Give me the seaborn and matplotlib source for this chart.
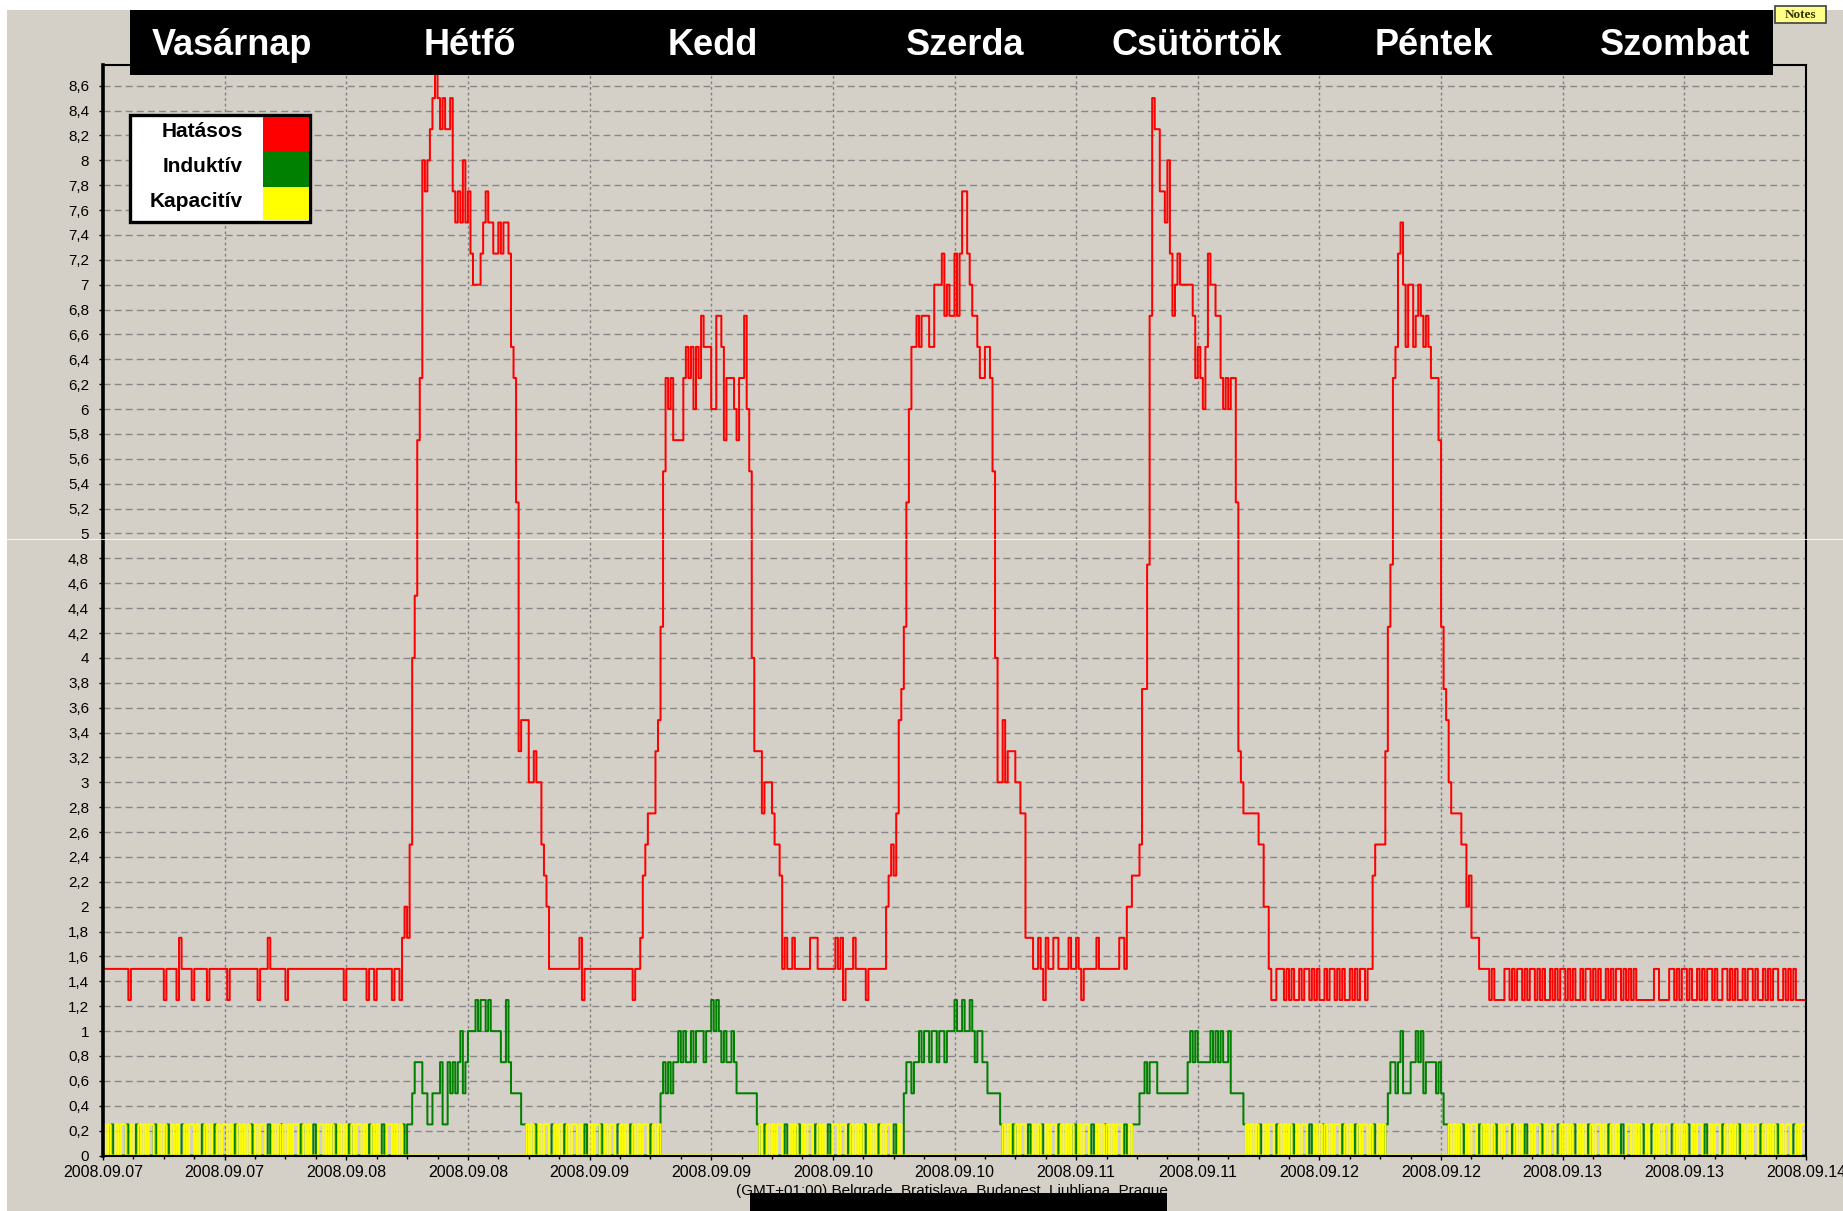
import numpy as np
import pandas as pd
import seaborn as sns
import matplotlib.pyplot as plt
import matplotlib.dates as mdates
import matplotlib.transforms as mtransforms
from matplotlib.patches import Rectangle
from matplotlib.lines import Line2D
from matplotlib.ticker import MultipleLocator, FuncFormatter

sns.set_theme(style="white")
plt.rcParams['font.family'] = ['Liberation Sans', 'DejaVu Sans']

# 15 minute demand data, one week from Sunday 2008.09.07 00:00
START = "2008-09-07 00:00"
days = ["Vasárnap", "Hétfő", "Kedd", "Szerda", "Csütörtök", "Péntek", "Szombat"]
day_label_hours = [12.7, 36.2, 60.2, 85.1, 107.9, 131.3, 155.1]
series_names = ["Hatásos", "Induktív", "Kapacitív"]
series_colors = ["#ff0000", "#008000", "#ffff00"]

# active power (Hatásos), runs of (value, number of quarter hours)
red_sunday = [(1.5, 10), (1.25, 1), (1.5, 13), (1.25, 1), (1.5, 4), (1.25, 1), (1.75, 1), (1.5, 4),
              (1.25, 1), (1.5, 5), (1.25, 1), (1.5, 7), (1.25, 1), (1.5, 11), (1.25, 1), (1.5, 3),
              (1.75, 1), (1.5, 6), (1.25, 1), (1.5, 22), (1.25, 1), (1.5, 8), (1.25, 1), (1.5, 2),
              (1.25, 1), (1.5, 6), (1.25, 1), (1.5, 2), (1.25, 1)]
red_monday = [(1.75, 1), (2.0, 1), (1.75, 1), (2.5, 1), (4.0, 1), (4.5, 1), (5.75, 1), (6.25, 1),
              (8.0, 1), (7.75, 1), (8.0, 1), (8.25, 1), (8.5, 1), (8.75, 1), (8.5, 1), (8.25, 1),
              (8.5, 1), (8.25, 2), (8.5, 1), (7.75, 1), (7.5, 1), (7.75, 1), (7.5, 1), (8.0, 1),
              (7.5, 1), (7.75, 1), (7.25, 1), (7.0, 3), (7.25, 1), (7.5, 1), (7.75, 1), (7.5, 2),
              (7.25, 2), (7.5, 1), (7.25, 1), (7.5, 2), (7.25, 1), (6.5, 1), (6.25, 1), (5.25, 1),
              (3.25, 1), (3.5, 3), (3.0, 2), (3.25, 1), (3.0, 2), (2.5, 1), (2.25, 1), (2.0, 1),
              (1.5, 12), (1.75, 1), (1.25, 1), (1.5, 19), (1.25, 1), (1.5, 2)]
red_tuesday = [(1.75, 1), (2.25, 1), (2.5, 1), (2.75, 3), (3.25, 1), (3.5, 1), (4.25, 1), (5.5, 1),
               (6.25, 1), (6.0, 1), (6.25, 1), (5.75, 4), (6.25, 1), (6.5, 1), (6.25, 1), (6.5, 1),
               (6.0, 1), (6.5, 1), (6.25, 1), (6.75, 1), (6.5, 3), (6.0, 2), (6.75, 2), (6.5, 1),
               (5.75, 1), (6.25, 3), (6.0, 1), (5.75, 1), (6.25, 2), (6.75, 1), (6.0, 1), (5.5, 1),
               (4.0, 1), (3.25, 3), (2.75, 1), (3.0, 3), (2.75, 1), (2.5, 2), (2.25, 1), (1.5, 1),
               (1.75, 1), (1.5, 2), (1.75, 1), (1.5, 6), (1.75, 3), (1.5, 7), (1.75, 1), (1.5, 1),
               (1.75, 1), (1.25, 1), (1.5, 3), (1.75, 1), (1.5, 4), (1.25, 1), (1.5, 4)]
red_wednesday = [(1.5, 3), (2.0, 1), (2.25, 1), (2.5, 1), (2.25, 1), (2.75, 1), (3.5, 1), (3.75, 1),
                 (4.25, 1), (5.25, 1), (6.0, 1), (6.5, 2), (6.75, 1), (6.5, 1), (6.75, 3), (6.5, 2),
                 (7.0, 3), (7.25, 1), (6.75, 1), (7.0, 1), (6.75, 2), (7.25, 1), (6.75, 1), (7.25, 1),
                 (7.75, 2), (7.25, 1), (7.0, 1), (6.75, 2), (6.5, 1), (6.25, 2), (6.5, 2), (6.25, 1),
                 (5.5, 1), (4.0, 1), (3.0, 2), (3.5, 1), (3.0, 1), (3.25, 3), (3.0, 2), (2.75, 2),
                 (1.75, 3), (1.5, 2), (1.75, 1), (1.5, 1), (1.25, 1), (1.75, 1), (1.5, 2), (1.75, 2),
                 (1.5, 4), (1.75, 1), (1.5, 2), (1.75, 1), (1.5, 1), (1.25, 1), (1.5, 5), (1.75, 1),
                 (1.5, 8)]
red_thursday = [(1.75, 2), (1.5, 1), (2.0, 2), (2.25, 3), (2.5, 1), (3.75, 2), (4.75, 1), (6.75, 1),
                (8.5, 1), (8.25, 2), (7.75, 2), (7.5, 1), (8.0, 1), (7.25, 1), (6.75, 1), (7.0, 1),
                (7.25, 1), (7.0, 5), (6.75, 1), (6.25, 1), (6.5, 1), (6.25, 1), (6.0, 1), (6.5, 1),
                (7.25, 1), (7.0, 2), (6.75, 2), (6.25, 1), (6.0, 1), (6.25, 1), (6.0, 1), (6.25, 2),
                (5.25, 1), (3.25, 1), (3.0, 1), (2.75, 6), (2.5, 2), (2.0, 2), (1.5, 1), (1.25, 2),
                (1.5, 3),
                (1.25, 1), (1.5, 1), (1.25, 1), (1.5, 1), (1.25, 2), (1.5, 1), (1.25, 1), (1.5, 2),
                (1.25, 1), (1.5, 1), (1.25, 1), (1.5, 1), (1.25, 2), (1.5, 1), (1.25, 1), (1.5, 2),
                (1.25, 1), (1.5, 1), (1.25, 1), (1.5, 1), (1.25, 2), (1.5, 1), (1.25, 1), (1.5, 1),
                (1.25, 1), (1.5, 2), (1.25, 1), (1.5, 1)]
red_friday = [(1.5, 1), (2.25, 1), (2.5, 4), (3.25, 1), (4.25, 1), (4.75, 1), (6.25, 1), (6.5, 1),
              (7.25, 1), (7.5, 1), (7.0, 1), (6.5, 1), (7.0, 2), (6.5, 1), (6.75, 1), (7.0, 1),
              (6.75, 1), (6.5, 1), (6.75, 1), (6.5, 1), (6.25, 3), (5.75, 1), (4.25, 1), (3.75, 1),
              (3.5, 1), (3.0, 1), (2.75, 4), (2.5, 2), (2.0, 1), (2.25, 1), (1.75, 3), (1.5, 4)]
red_weekend = [(1.25, 1), (1.5, 1), (1.25, 4), (1.5, 2), (1.25, 1), (1.5, 1), (1.25, 1), (1.5, 2),
               (1.25, 1), (1.5, 1), (1.25, 1), (1.5, 2), (1.25, 1), (1.5, 1), (1.25, 1), (1.5, 1),
               (1.25, 2), (1.5, 1), (1.25, 1), (1.5, 1), (1.25, 1), (1.5, 2), (1.25, 1), (1.5, 1),
               (1.25, 1), (1.5, 1), (1.25, 2), (1.5, 1), (1.25, 1), (1.5, 2), (1.25, 1), (1.5, 1),
               (1.25, 1), (1.5, 1), (1.25, 2), (1.5, 1), (1.25, 1), (1.5, 1), (1.25, 1), (1.5, 2),
               (1.25, 1), (1.5, 1), (1.25, 1), (1.5, 1), (1.25, 1), (1.5, 1), (1.25, 7), (1.5, 2),
               (1.25, 4), (1.5, 2), (1.25, 1), (1.5, 1), (1.25, 1), (1.5, 2), (1.25, 1), (1.5, 1),
               (1.25, 2), (1.5, 1), (1.25, 1), (1.5, 1), (1.25, 1), (1.5, 2), (1.25, 1), (1.5, 1),
               (1.25, 2), (1.5, 2), (1.25, 1), (1.5, 1), (1.25, 1), (1.5, 1), (1.25, 2), (1.5, 1),
               (1.25, 1), (1.5, 2), (1.25, 1), (1.5, 1), (1.25, 2), (1.5, 1), (1.25, 1), (1.5, 1),
               (1.25, 1), (1.5, 2), (1.25, 2), (1.5, 1), (1.25, 1), (1.5, 1), (1.25, 1), (1.5, 1),
               (1.25, 4)]

# reactive power in working hours (Induktív), runs of (value, quarters)
green_monday = [(0.5, 1), (0.75, 3), (0.5, 2), (0.25, 2), (0.5, 3), (0.75, 1), (0.25, 2), (0.75, 1),
                (0.5, 1), (0.75, 1), (0.5, 1), (0.75, 1), (1.0, 1), (0.5, 1), (0.75, 1), (1.0, 3),
                (1.25, 1), (1.0, 1), (1.25, 2), (1.0, 1), (1.25, 1), (1.0, 4), (0.75, 2), (1.25, 1),
                (0.75, 1), (0.5, 4), (0.25, 2)]
green_tuesday = [(0.5, 1), (0.75, 1), (0.5, 1), (0.75, 1), (0.5, 1), (0.75, 2), (1.0, 1), (0.75, 1),
                 (1.0, 1), (0.75, 2), (1.0, 1), (0.75, 1), (1.0, 3), (0.75, 1), (1.0, 2), (1.25, 1),
                 (1.0, 1), (1.25, 1), (1.0, 1), (0.75, 1), (1.0, 1), (0.75, 2), (1.0, 1), (0.75, 1),
                 (0.5, 8), (0.25, 1)]
green_wednesday = [(0.5, 1), (0.75, 2), (0.5, 1), (0.75, 2), (1.0, 1), (0.75, 1), (1.0, 2), (0.75, 1),
                   (1.0, 2), (0.75, 1), (1.0, 2), (0.75, 1), (1.0, 3), (1.25, 1), (1.0, 2), (1.25, 1),
                   (1.0, 2), (1.25, 1), (1.0, 1), (0.75, 1), (1.0, 2), (0.75, 2), (0.5, 5), (0.25, 1)]
green_thursday = [(0.5, 2), (0.75, 1), (0.5, 1), (0.75, 3), (0.5, 12), (0.75, 1), (1.0, 1), (0.75, 1),
                  (1.0, 1), (0.75, 5), (1.0, 1), (0.75, 1), (1.0, 1), (0.75, 1), (1.0, 1), (0.75, 2),
                  (1.0, 1), (0.5, 5)]
green_friday = [(0.5, 1), (0.75, 2), (0.5, 1), (0.75, 1), (1.0, 1), (0.5, 3), (0.75, 2), (1.0, 1),
                (0.75, 1), (1.0, 1), (0.5, 1), (0.75, 4), (0.5, 1), (0.75, 1), (0.5, 1)]

# off hours, one letter per quarter: y = Kapacitív 0.25, g = Induktív 0.25, 0 = none
night_1 = ("y0yg0y0yyg" "0y0gy0y0yy" "g0y0yg0y0y" "0gy0yy0y0g" "y0y0gy0yy0" "y0gy0y0yg0"
           "y0yy0g0y0y" "gy0y0yy0gy" "0y0g0yy0y0" "yg0y0y0gy0" "yy0y0gy0y0" "g0yy0y0yg0" "gg")
night_2 = "y0yg0y0yy0" "gy0y0gy0yy" "0y0g0y0yyg" "0y0yy0gy0y" "0gy0y0yy0g" "y0y"
night_3 = "y0gy0y0yy0" "g0y0yg0y0y" "y0gy0y0g0y" "y0yy0gy0y0" "yg0y0y0gy0" "yy0g0y0"
night_4 = "y0y0gy0yy0" "g0y0yg0y0y" "y0gy0y0yg0" "y0yy0g0y0y" "gy0y0yy0g0" "yggg"
night_5 = "gy0y0yg0y0" "yy0gy0y0yg" "0y0yy0g0y0" "ygy0y0yy0g" "y0y0gy0yy0" "yg0y0yg"
night_6 = ("ggy0y0yg0y" "0yy0gy0y0y" "g0y0yy0gy0" "y0g0y0yyg0" "y0yy0gy0y0" "yg0y0y0gy0"
           "yy0y0gy0y0" "g0yy0y0yg0" "y0gy0y0yy0" "gy0y0yg0y0" "yy0g0y0yy0" "gy0y0yg0y0"
           "y0yy0gy0y0" "yg0y0yy0gy" "0yy")


def expand(runs):
    return [v for v, n in runs for _ in range(n)]


red = expand(red_sunday + red_monday + red_tuesday + red_wednesday + red_thursday
             + red_friday + red_weekend)

green, yellow = [], []
for seg in [night_1, green_monday, night_2, green_tuesday, night_3, green_wednesday,
            night_4, green_thursday, night_5, green_friday, night_6]:
    if isinstance(seg, str):
        green += [0.25 if c == "g" else 0.0 for c in seg]
        yellow += [0.25 if c == "y" else 0.0 for c in seg]
    else:
        vals = expand(seg)
        green += vals
        yellow += [0.0] * len(vals)

assert len(red) == 672 and len(green) == 672 and len(yellow) == 672, (len(red), len(green), len(yellow))

times = pd.date_range(START, periods=673, freq="15min")
frames = []
for name, vals in zip(series_names, [red, green, yellow]):
    frames.append(pd.DataFrame({"time": times, "kW": vals + [vals[-1]], "series": name}))
df = pd.concat(frames, ignore_index=True)

W, H = 1843, 1211
BG = "#d4d0c8"


def fx(px):
    return px / W


def fy(py):
    return 1 - py / H


fig = plt.figure(figsize=(W / 100, H / 100), dpi=100, facecolor=BG)
ax = fig.add_axes([fx(103), fy(1155.5), 1703 / W, 1090.5 / H])
ax.set_facecolor(BG)

sns.lineplot(data=df, x="time", y="kW", hue="series", hue_order=series_names,
             palette=series_colors, drawstyle="steps-post", linewidth=1.45,
             estimator=None, legend=False, ax=ax)
ax.set_xlabel("")
ax.set_ylabel("")

ax.set_xlim(times[0], times[-1])
ax.set_ylim(0, 8.766)
ax.xaxis.set_major_locator(mdates.HourLocator(byhour=[0, 12]))
ax.xaxis.set_major_formatter(mdates.DateFormatter("%Y.%m.%d"))
ax.xaxis.set_minor_locator(mdates.HourLocator(byhour=range(0, 24, 3)))
ax.yaxis.set_major_locator(MultipleLocator(0.2))


def hu_fmt(v, pos):
    v = round(v, 1)
    if abs(v - round(v)) < 1e-6:
        return str(int(round(v)))
    return f"{v:.1f}".replace(".", ",")


ax.yaxis.set_major_formatter(FuncFormatter(hu_fmt))

ax.tick_params(axis="both", which="both", direction="out", colors="black",
               bottom=True, left=True)
ax.tick_params(axis="y", length=3, width=1, pad=7, labelsize=11)
ax.tick_params(axis="x", which="major", length=3, width=1, pad=4, labelsize=11.5)
ax.tick_params(axis="x", which="minor", length=2, width=1)

for s in ax.spines.values():
    s.set_color("black")
    s.set_linewidth(1.5)
ax.spines["left"].set_linewidth(2.6)

ax.grid(False)
ax.yaxis.grid(True, color="#878787", linestyle=(0, (5, 3)), linewidth=1.0)
ax.xaxis.grid(True, which="major", color="#808080", linestyle=(0, (2, 2)), linewidth=1.0)
ax.set_axisbelow(True)

# window edges
fig.add_artist(Rectangle((0, fy(10)), 1, 10 / H, transform=fig.transFigure,
                         facecolor="white", edgecolor="none", zorder=1))
fig.add_artist(Rectangle((0, 0), 7 / W, fy(10), transform=fig.transFigure,
                         facecolor="white", edgecolor="none", zorder=1))
fig.add_artist(Line2D([0, 1], [fy(538.6)] * 2, transform=fig.transFigure,
                      color="white", linewidth=0.7, alpha=0.8, zorder=6))

# day header
fig.add_artist(Rectangle((fx(129.5), fy(75)), (1773 - 129.5) / W, 65 / H,
                         transform=fig.transFigure, facecolor="black", edgecolor="none", zorder=4))
trans = mtransforms.blended_transform_factory(ax.transData, fig.transFigure)
t0 = pd.Timestamp(START)
for d, hrs in zip(days, day_label_hours):
    xd = mdates.date2num(t0 + pd.Timedelta(hours=hrs))
    fig.text(xd, fy(55), d, transform=trans, ha="center", va="baseline",
             color="white", fontsize=26, fontweight="bold", zorder=5)

# legend box
fig.add_artist(Rectangle((fx(129.5), fy(222)), (310 - 129.5) / W, (222 - 115) / H,
                         transform=fig.transFigure, facecolor="white", edgecolor="black",
                         linewidth=2.4, zorder=4))
sw_top = [117, 152, 187]
sw_bot = [152, 187, 220]
base = [137, 172, 207]
for name, col, t, b, bl in zip(series_names, series_colors, sw_top, sw_bot, base):
    fig.add_artist(Rectangle((fx(263), fy(b)), (309 - 263) / W, (b - t) / H,
                             transform=fig.transFigure, facecolor=col, edgecolor="none", zorder=5))
    fig.text(fx(243), fy(bl), name, ha="right", va="baseline", fontsize=15,
             fontweight="bold", color="black", zorder=5)

# Notes button
fig.add_artist(Rectangle((fx(1775), fy(23)), 51 / W, 17 / H, transform=fig.transFigure,
                         facecolor="#ffff88", edgecolor="#404040", linewidth=1.2, zorder=5))
fig.text(fx(1800.5), fy(14.5), "Notes", ha="center", va="center", fontsize=9.5,
         family=["Liberation Serif", "DejaVu Serif"], fontweight="bold", color="#333300", zorder=6)

# time zone caption, partly covered
fig.text(fx(952), fy(1191), "(GMT+01:00) Belgrade, Bratislava, Budapest, Ljubljana, Prague",
         ha="center", va="center", fontsize=11, color="black", zorder=5)
fig.add_artist(Rectangle((fx(750), 0), (1167 - 750) / W, 18 / H, transform=fig.transFigure,
                         facecolor="black", edgecolor="none", zorder=7))

fig.savefig("out.png", dpi=100, facecolor=fig.get_facecolor())
